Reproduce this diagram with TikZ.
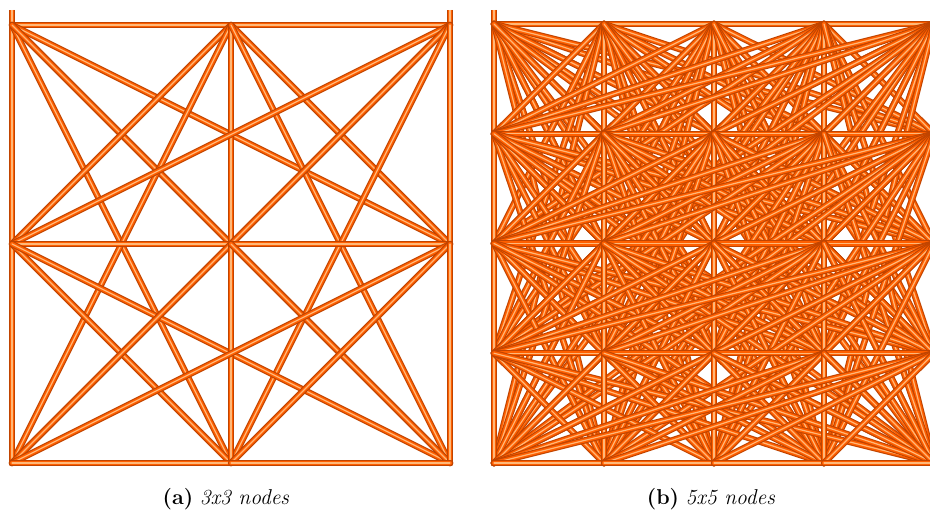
\documentclass[tikz,border=0pt]{standalone}
\begin{document}
\begin{tikzpicture}[x=1pt,y=-1pt]
\definecolor{tubedark}{HTML}{C04400}
\definecolor{tubemid}{HTML}{FF5F00}
\definecolor{tubelight}{HTML}{FFB878}
\tikzset{
  tube/.style={draw=tubedark,line width=6.4pt,line cap=round,
    postaction={draw=tubemid,line width=4.2pt},
    postaction={draw=tubelight,line width=1.2pt}},
  tubeflat/.style={tube,line cap=butt},
  caption/.style={anchor=base,font=\fontsize{21.5}{25}\selectfont}
}
\useasboundingbox (0,0) rectangle (930,511);
\clip (0,0) rectangle (930,511);
% panel (a): 3x3 nodes
\foreach \i in {0,1,2}{
  \foreach \j in {0,1,2}{
    \pgfmathtruncatemacro\k{3*\j+\i}
    \coordinate (a\k) at ({12+219*\i},{25+219*\j});
  }
}
\coordinate (atl) at (12,10);
\coordinate (atr) at (450,10);
\draw[tubeflat] (atl) -- (a0);
\draw[tubeflat] (atr) -- (a2);
\foreach \p in {0,...,7}{
  \pgfmathtruncatemacro\pp{\p+1}
  \foreach \q in {\pp,...,8}{
    \draw[tube] (a\p) -- (a\q);
  }
}
% panel (b): 5x5 nodes
\foreach \i in {0,...,4}{
  \foreach \j in {0,...,4}{
    \pgfmathtruncatemacro\k{5*\j+\i}
    \coordinate (b\k) at ({494+110*\i},{24+109.75*\j});
  }
}
\coordinate (btl) at (494,10);
\draw[tubeflat] (btl) -- (b0);
\foreach \p in {0,...,23}{
  \pgfmathtruncatemacro\pp{\p+1}
  \foreach \q in {\pp,...,24}{
    \draw[tube] (b\p) -- (b\q);
  }
}
% captions
\node[caption] (capa) at (226,504) {\textbf{(a)}\ \textit{3x3 nodes}};
\node[caption] (capb) at (711,504) {\textbf{(b)}\ \textit{5x5 nodes}};
\end{tikzpicture}
\end{document}
